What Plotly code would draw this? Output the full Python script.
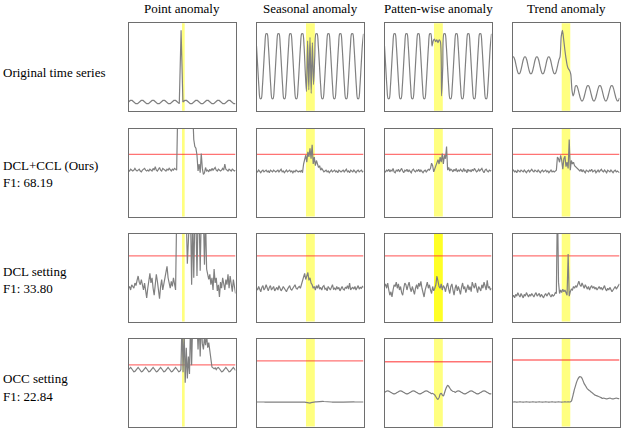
import numpy as np
import plotly.graph_objects as go

# ---------------- text ----------------
col_titles = ["Point anomaly", "Seasonal anomaly", "Patten-wise anomaly", "Trend anomaly"]
row_labels = [["Original time series"],
              ["DCL+CCL (Ours)", "F1: 68.19"],
              ["DCL setting", "F1: 33.80"],
              ["OCC setting", "F1: 22.84"]]

# ---------------- anomaly intervals (fraction of time axis) ----------------
band_point = [0.500, 0.525]
band_seasonal = [0.4625, 0.545]
band_pattern = [0.4625, 0.545]
band_trend = [0.46, 0.54]

# thresholds (None = no threshold)
thr_original = [None, None, None, None]
thr_dclccl = [0.71, 0.71, 0.71, 0.71]
thr_dcl = [0.75, 0.75, 0.75, 0.75]
thr_occ = [0.705, 0.75, 0.74, 0.76]

# ---------------- row 1 : original series ----------------
orig_point = [
    0.100, 0.118, 0.118, 0.100, 0.082, 0.082,
    0.100, 0.118, 0.118, 0.100, 0.082, 0.082,
    0.100, 0.118, 0.118, 0.100, 0.082, 0.082,
    0.100, 0.118, 0.118, 0.100, 0.082, 0.082,
    0.100, 0.118, 0.118, 0.100, 0.082, 0.920,
    0.100, 0.118, 0.118, 0.100, 0.082, 0.082,
    0.100, 0.118, 0.118, 0.100, 0.082, 0.082,
    0.100, 0.118, 0.118, 0.100, 0.082, 0.082,
    0.100, 0.118, 0.118, 0.100, 0.082, 0.082,
    0.100, 0.118, 0.118, 0.100, 0.082, 0.082,
]
orig_seasonal = [
    0.74, 0.51, 0.28, 0.14, 0.14, 0.28, 0.51, 0.74, 0.88, 0.88,
    0.74, 0.51, 0.28, 0.14, 0.14, 0.28, 0.51, 0.74, 0.88, 0.88,
    0.74, 0.51, 0.28, 0.14, 0.14, 0.28, 0.51, 0.74, 0.88, 0.88,
    0.74, 0.51, 0.28, 0.14, 0.14, 0.28, 0.51, 0.74, 0.88, 0.88,
    0.74, 0.45, 0.22, 0.80, 0.24, 0.84, 0.20, 0.78, 0.30, 0.62,
    0.88, 0.88, 0.74, 0.51, 0.28, 0.14, 0.14, 0.28, 0.51, 0.74,
    0.88, 0.88, 0.74, 0.51, 0.28, 0.14, 0.14, 0.28, 0.51, 0.74,
    0.88, 0.88, 0.74, 0.51, 0.28, 0.14, 0.14, 0.28, 0.51, 0.74,
    0.88, 0.88, 0.74, 0.51, 0.28, 0.14, 0.14, 0.28, 0.51, 0.74,
    0.88,
]
orig_pattern = [
    0.74, 0.51, 0.28, 0.14, 0.14, 0.28, 0.51, 0.74, 0.88, 0.88,
    0.74, 0.51, 0.28, 0.14, 0.14, 0.28, 0.51, 0.74, 0.88, 0.88,
    0.74, 0.51, 0.28, 0.14, 0.14, 0.28, 0.51, 0.74, 0.88, 0.88,
    0.74, 0.51, 0.28, 0.14, 0.14, 0.28, 0.51, 0.74, 0.88, 0.88,
    0.74, 0.80, 0.82, 0.79, 0.81, 0.78, 0.81, 0.79, 0.17, 0.50,
    0.88, 0.88, 0.74, 0.51, 0.28, 0.14, 0.14, 0.28, 0.51, 0.74,
    0.88, 0.88, 0.74, 0.51, 0.28, 0.14, 0.14, 0.28, 0.51, 0.74,
    0.88, 0.88, 0.74, 0.51, 0.28, 0.14, 0.14, 0.28, 0.51, 0.74,
    0.88, 0.88, 0.74, 0.51, 0.28, 0.14, 0.14, 0.28, 0.51, 0.74,
    0.88,
]
orig_trend = [
    0.615, 0.615, 0.58, 0.52, 0.46, 0.425, 0.425, 0.46, 0.52, 0.58,
    0.615, 0.615, 0.58, 0.52, 0.46, 0.425, 0.425, 0.46, 0.52, 0.58,
    0.615, 0.615, 0.58, 0.52, 0.46, 0.425, 0.425, 0.46, 0.52, 0.58,
    0.615, 0.615, 0.58, 0.52, 0.46, 0.425, 0.425, 0.46, 0.52, 0.58,
    0.62, 0.85, 0.92, 0.82, 0.70, 0.60, 0.52, 0.48, 0.46, 0.42,
    0.24, 0.17, 0.21,
    0.285, 0.285, 0.253, 0.20, 0.147, 0.115, 0.115, 0.147, 0.20, 0.253,
    0.285, 0.285, 0.253, 0.20, 0.147, 0.115, 0.115, 0.147, 0.20, 0.253,
    0.285, 0.285, 0.253, 0.20, 0.147, 0.115, 0.115, 0.147, 0.20, 0.253,
    0.285, 0.285, 0.253, 0.20, 0.147, 0.115, 0.115, 0.147,
]

# ---------------- row 2 : DCL+CCL ----------------
dclccl_point = [
    0.53, 0.52, 0.54, 0.53, 0.52, 0.53, 0.55, 0.53, 0.52, 0.53,
    0.54, 0.52, 0.51, 0.53, 0.54, 0.55, 0.53, 0.52, 0.53, 0.52,
    0.54, 0.53, 0.52, 0.55, 0.53, 0.57, 0.53, 0.52, 0.54, 0.56,
    0.53, 0.52, 0.55, 0.54, 0.53, 0.52, 0.54, 0.53, 0.55, 0.53,
    0.52, 0.54, 0.53, 0.55, 0.54, 0.53, 1.20, 1.20, 1.20, 1.20,
    1.20, 1.20, 1.20, 1.20, 1.20, 1.20, 1.20, 1.20, 1.20, 1.20,
    1.20, 0.88, 0.80, 0.78, 0.70, 0.52, 0.60, 0.50, 0.72, 0.55,
    0.48, 0.50, 0.56, 0.52, 0.53, 0.51, 0.54, 0.52, 0.55, 0.53,
    0.54, 0.56, 0.53, 0.52, 0.54, 0.53, 0.52, 0.53, 0.55, 0.53,
    0.60, 0.54, 0.53, 0.52, 0.54, 0.53, 0.52, 0.54, 0.53, 0.52,
    0.53,
]
dclccl_seasonal = [
    0.52, 0.51, 0.53, 0.52, 0.50, 0.52, 0.53, 0.51, 0.52, 0.53,
    0.51, 0.52, 0.50, 0.53, 0.52, 0.51, 0.53, 0.52, 0.51, 0.52,
    0.53, 0.51, 0.52, 0.54, 0.51, 0.52, 0.50, 0.52, 0.53, 0.51,
    0.52, 0.53, 0.51, 0.52, 0.50, 0.52, 0.51, 0.53, 0.52, 0.51,
    0.52, 0.51, 0.53, 0.50, 0.60, 0.64, 0.70, 0.62, 0.74, 0.68,
    0.78, 0.66, 0.82, 0.60, 0.68, 0.58, 0.64, 0.60, 0.56, 0.58,
    0.53, 0.55, 0.52, 0.51, 0.52, 0.53, 0.51, 0.52, 0.50, 0.52,
    0.53, 0.51, 0.52, 0.53, 0.51, 0.52, 0.50, 0.53, 0.52, 0.51,
    0.52, 0.53, 0.51, 0.52, 0.54, 0.51, 0.52, 0.50, 0.53, 0.52,
    0.51, 0.53, 0.52, 0.50, 0.52, 0.53, 0.51, 0.52, 0.53, 0.51,
    0.52,
]
dclccl_pattern = [
    0.52, 0.51, 0.53, 0.52, 0.54, 0.51, 0.53, 0.52, 0.55, 0.51,
    0.50, 0.53, 0.52, 0.54, 0.51, 0.53, 0.55, 0.52, 0.50, 0.53,
    0.52, 0.54, 0.51, 0.53, 0.52, 0.50, 0.53, 0.54, 0.52, 0.51,
    0.53, 0.52, 0.54, 0.51, 0.53, 0.52, 0.50, 0.52, 0.53, 0.51,
    0.52, 0.54, 0.53, 0.55, 0.61, 0.58, 0.51, 0.54, 0.57, 0.60,
    0.65, 0.60, 0.68, 0.62, 0.72, 0.60, 0.70, 0.66, 0.80, 0.53,
    0.56, 0.52, 0.54, 0.53, 0.51, 0.54, 0.52, 0.55, 0.51, 0.53,
    0.52, 0.54, 0.53, 0.51, 0.55, 0.52, 0.53, 0.50, 0.54, 0.52,
    0.53, 0.51, 0.54, 0.52, 0.55, 0.53, 0.51, 0.52, 0.54, 0.52,
    0.53, 0.55, 0.52, 0.50, 0.53, 0.54, 0.52, 0.51, 0.53, 0.52,
    0.53,
]
dclccl_trend = [
    0.52, 0.53, 0.51, 0.52, 0.50, 0.53, 0.52, 0.51, 0.53, 0.52,
    0.51, 0.53, 0.52, 0.50, 0.52, 0.53, 0.51, 0.52, 0.54, 0.52,
    0.51, 0.53, 0.52, 0.51, 0.53, 0.52, 0.50, 0.52, 0.53, 0.51,
    0.52, 0.53, 0.51, 0.52, 0.50, 0.52, 0.53, 0.51, 0.52, 0.51,
    0.52, 0.53, 0.68, 0.66, 0.62, 0.70, 0.64, 0.54, 0.66, 0.69,
    0.57, 0.62, 0.55, 0.88, 0.53, 0.64, 0.60, 0.62, 0.58, 0.57,
    0.55, 0.54, 0.53, 0.52, 0.54, 0.51, 0.53, 0.52, 0.50, 0.53,
    0.52, 0.51, 0.53, 0.52, 0.54, 0.51, 0.52, 0.53, 0.50, 0.52,
    0.53, 0.51, 0.52, 0.54, 0.52, 0.51, 0.53, 0.52, 0.50, 0.53,
    0.52, 0.51, 0.53, 0.52, 0.50, 0.52, 0.53, 0.51, 0.52, 0.51,
    0.50,
]

# ---------------- row 3 : DCL setting ----------------
dcl_point = [
    0.38, 0.40, 0.36, 0.42, 0.40, 0.38, 0.44, 0.41, 0.47, 0.52,
    0.45, 0.42, 0.48, 0.40, 0.36, 0.44, 0.34, 0.27, 0.38, 0.46,
    0.55, 0.44, 0.50, 0.38, 0.30, 0.42, 0.54, 0.46, 0.33, 0.26,
    0.40, 0.48, 0.36, 0.44, 0.52, 0.58, 0.63, 0.50, 0.44, 0.38,
    0.46, 0.40, 0.50, 0.44, 0.36, 1.20, 1.20, 1.20, 1.20, 1.20,
    1.20, 1.20, 1.20, 1.20, 1.20, 0.66, 1.20, 1.20, 1.20, 0.42,
    1.20, 0.50, 1.20, 1.20, 0.52, 1.20, 1.20, 0.58, 1.20, 1.20,
    1.20, 0.65, 1.20, 0.60, 0.52, 0.48, 0.54, 0.42, 0.50, 0.36,
    0.60, 0.44, 0.50, 0.35, 0.42, 0.28, 0.45, 0.38, 0.50, 0.40,
    0.36, 0.48, 0.42, 0.54, 0.38, 0.52, 0.45, 0.34, 0.48, 0.40,
    0.32,
]
dcl_seasonal = [
    0.38, 0.36, 0.40, 0.37, 0.34, 0.39, 0.41, 0.36, 0.38, 0.42,
    0.37, 0.35, 0.39, 0.41, 0.36, 0.38, 0.40, 0.35, 0.37, 0.39,
    0.36, 0.41, 0.38, 0.35, 0.37, 0.40, 0.38, 0.36, 0.34, 0.37,
    0.39, 0.41, 0.37, 0.36, 0.38, 0.40, 0.42, 0.38, 0.37, 0.39,
    0.40, 0.38, 0.42, 0.45, 0.50, 0.55, 0.48, 0.52, 0.56, 0.47,
    0.50, 0.44, 0.42, 0.38, 0.40, 0.36, 0.41, 0.38, 0.42, 0.37,
    0.39, 0.36, 0.40, 0.41, 0.37, 0.38, 0.35, 0.40, 0.38, 0.36,
    0.39, 0.42, 0.37, 0.38, 0.36, 0.40, 0.37, 0.39, 0.35, 0.38,
    0.40, 0.37, 0.36, 0.39, 0.38, 0.41, 0.37, 0.44, 0.36, 0.38,
    0.39, 0.37, 0.40, 0.36, 0.38, 0.41, 0.37, 0.39, 0.38, 0.40,
    0.39,
]
dcl_pattern = [
    0.40, 0.43, 0.38, 0.44, 0.36, 0.30, 0.34, 0.28, 0.36, 0.42,
    0.40, 0.45, 0.38, 0.43, 0.36, 0.40, 0.33, 0.30, 0.38, 0.44,
    0.42, 0.36, 0.41, 0.45, 0.38, 0.34, 0.40, 0.36, 0.31, 0.38,
    0.42, 0.37, 0.44, 0.40, 0.46, 0.38, 0.34, 0.28, 0.36, 0.40,
    0.45, 0.38, 0.42, 0.36, 0.32, 0.40, 0.35, 0.38, 0.42, 0.52,
    0.44, 0.40, 0.38, 0.43, 0.36, 0.41, 0.39, 0.34, 0.40, 0.44,
    0.37, 0.32, 0.40, 0.43, 0.36, 0.30, 0.38, 0.42, 0.35, 0.40,
    0.36, 0.31, 0.39, 0.44, 0.37, 0.40, 0.33, 0.38, 0.42, 0.36,
    0.40, 0.34, 0.45, 0.41, 0.38, 0.44, 0.36, 0.33, 0.40, 0.37,
    0.35, 0.42, 0.38, 0.45, 0.40, 0.36, 0.47, 0.38, 0.40, 0.36,
    0.38,
]
dcl_trend = [
    0.28, 0.30, 0.27, 0.31, 0.29, 0.33, 0.30, 0.28, 0.32, 0.30,
    0.27, 0.31, 0.29, 0.33, 0.30, 0.28, 0.31, 0.29, 0.32, 0.30,
    0.28, 0.31, 0.33, 0.29, 0.30, 0.32, 0.28, 0.31, 0.29, 0.27,
    0.30, 0.32, 0.29, 0.31, 0.33, 0.30, 0.28, 0.31, 0.29, 0.30,
    0.33, 0.32, 1.40, 0.45, 0.32, 0.36, 0.33, 0.37, 0.34, 0.36,
    0.33, 0.30, 0.77, 0.29, 0.34, 0.37, 0.36, 0.40, 0.38, 0.41,
    0.39, 0.43, 0.46, 0.42, 0.40, 0.44, 0.41, 0.38, 0.42, 0.39,
    0.37, 0.40, 0.36, 0.39, 0.41, 0.38, 0.40, 0.37, 0.39, 0.36,
    0.38, 0.40, 0.37, 0.39, 0.36, 0.38, 0.41, 0.37, 0.35, 0.38,
    0.36, 0.39, 0.37, 0.34, 0.36, 0.38, 0.40, 0.37, 0.39, 0.41,
    0.43,
]

# ---------------- row 4 : OCC setting ----------------
occ_point = [
    0.65, 0.67, 0.675, 0.66, 0.64, 0.625, 0.63,
    0.65, 0.67, 0.675, 0.66, 0.64, 0.625, 0.63,
    0.65, 0.67, 0.675, 0.66, 0.64, 0.625, 0.63,
    0.65, 0.67, 0.675, 0.66, 0.64, 0.625, 0.63,
    0.65, 0.67, 0.675, 0.66, 0.64, 0.625, 0.63,
    0.65, 0.67, 0.675, 0.66, 0.64, 0.625, 0.63,
    0.65, 0.67, 0.675, 0.66, 0.64, 0.625, 0.63,
    0.65,
    1.20, 0.62, 1.10, 0.50, 0.90, 0.55, 0.80, 0.60, 1.20, 0.70,
    1.20, 1.20, 1.20, 1.20, 1.20,
    0.88, 1.20, 0.80, 1.20, 0.95, 0.88, 1.02, 0.93, 1.05, 0.90,
    0.96, 0.86, 0.76, 0.68, 0.67, 0.66, 0.67,
    0.65, 0.67, 0.675, 0.66, 0.64, 0.625, 0.63,
    0.65, 0.67, 0.675, 0.66, 0.64, 0.625, 0.63,
    0.65, 0.67, 0.675, 0.66, 0.64,
]
occ_seasonal = [
    0.280, 0.281, 0.280, 0.279, 0.280, 0.281, 0.280, 0.280, 0.279, 0.280,
    0.281, 0.280, 0.279, 0.280, 0.281, 0.280, 0.280, 0.279, 0.280, 0.281,
    0.280, 0.279, 0.280, 0.281, 0.280, 0.280, 0.279, 0.280, 0.281, 0.280,
    0.280, 0.279, 0.280, 0.281, 0.280, 0.280, 0.279, 0.280, 0.281, 0.280,
    0.280, 0.281, 0.280, 0.279, 0.280, 0.278, 0.275, 0.272, 0.268, 0.266,
    0.268, 0.272, 0.276, 0.279, 0.281, 0.282, 0.281, 0.283, 0.285, 0.286,
    0.287, 0.286, 0.288, 0.286, 0.284, 0.282, 0.281, 0.280, 0.280, 0.281,
    0.280, 0.279, 0.280, 0.281, 0.280, 0.280, 0.279, 0.280, 0.281, 0.280,
    0.280, 0.279, 0.280, 0.281, 0.280, 0.280, 0.279, 0.280, 0.281, 0.280,
    0.280, 0.281, 0.280, 0.279, 0.280, 0.281, 0.280, 0.280, 0.279, 0.280,
    0.280,
]
occ_pattern = [
    0.390, 0.398, 0.405, 0.407, 0.405, 0.398, 0.390, 0.382, 0.375, 0.373, 0.375, 0.382,
    0.390, 0.398, 0.405, 0.407, 0.405, 0.398, 0.390, 0.382, 0.375, 0.373, 0.375, 0.382,
    0.390, 0.398, 0.405, 0.407, 0.405, 0.398, 0.390, 0.382, 0.375, 0.373, 0.375, 0.382,
    0.390, 0.398, 0.405, 0.407, 0.405, 0.398, 0.390, 0.382,
    0.375, 0.380, 0.370, 0.360, 0.340, 0.320, 0.310, 0.330, 0.370, 0.380,
    0.360, 0.350, 0.380, 0.420, 0.450, 0.470, 0.460, 0.440, 0.420, 0.410,
    0.400, 0.400, 0.390,
    0.398, 0.405, 0.407, 0.405, 0.398, 0.390, 0.382, 0.375, 0.373, 0.375, 0.382, 0.390,
    0.398, 0.405, 0.407, 0.405, 0.398, 0.390, 0.382, 0.375, 0.373, 0.375, 0.382, 0.390,
    0.398, 0.405, 0.407, 0.405, 0.398, 0.390, 0.382, 0.375, 0.373, 0.375,
]
occ_trend = [
    0.280, 0.280, 0.281, 0.280, 0.279, 0.280, 0.280, 0.281, 0.280, 0.280,
    0.279, 0.280, 0.280, 0.281, 0.280, 0.280, 0.279, 0.280, 0.280, 0.281,
    0.280, 0.280, 0.279, 0.280, 0.280, 0.281, 0.280, 0.280, 0.279, 0.280,
    0.280, 0.281, 0.280, 0.280, 0.279, 0.280, 0.280, 0.281, 0.280, 0.280,
    0.279, 0.280, 0.280, 0.281, 0.280, 0.280, 0.279, 0.280, 0.280, 0.281,
    0.280, 0.280, 0.281, 0.280,
    0.282, 0.290, 0.330, 0.380, 0.430, 0.470, 0.510, 0.540, 0.560, 0.570,
    0.565, 0.550, 0.520, 0.490, 0.470, 0.450, 0.430, 0.420, 0.410, 0.400,
    0.390, 0.380, 0.370, 0.360, 0.355, 0.350, 0.345, 0.340, 0.335, 0.330,
    0.320, 0.325, 0.322, 0.318, 0.315, 0.318, 0.322, 0.325, 0.320, 0.316,
    0.315, 0.318, 0.322, 0.325, 0.322, 0.318, 0.320,
]

series = [
    [orig_point, orig_seasonal, orig_pattern, orig_trend],
    [dclccl_point, dclccl_seasonal, dclccl_pattern, dclccl_trend],
    [dcl_point, dcl_seasonal, dcl_pattern, dcl_trend],
    [occ_point, occ_seasonal, occ_pattern, occ_trend],
]
thresholds = [thr_original, thr_dclccl, thr_dcl, thr_occ]
bands = [band_point, band_seasonal, band_pattern, band_trend]

# smooth (spline) drawing for the clean periodic panels
smooth_panels = {(0, 1), (0, 2), (0, 3), (3, 2), (3, 3)}

# ---------------- layout geometry (pixels) ----------------
W, H = 627, 436
col_left = [128.5, 256.5, 384.5, 512.5]
panel_w = 107
row_top = [23.3, 129.0, 234.0, 339.0]
panel_h = 87.5

FONT = "Liberation Serif, Times New Roman, serif"
LINE_GRAY = "#808080"
FRAME = "#6e6e6e"
RED = "rgba(255,40,40,0.65)"
YELLOW = "rgba(255,255,0,0.5)"
YELLOW_STRONG = "rgba(255,255,0,0.85)"

fig = go.Figure()
layout = dict(
    width=W, height=H, margin=dict(l=0, r=0, t=0, b=0),
    paper_bgcolor="white", plot_bgcolor="white", showlegend=False,
    shapes=[], annotations=[],
)

for r in range(4):
    for c in range(4):
        k = r * 4 + c + 1
        xs = "" if k == 1 else str(k)
        xa, ya = "xaxis" + xs, "yaxis" + xs
        xr, yr = "x" + xs, "y" + xs
        l = col_left[c]
        t = row_top[r]
        layout[xa] = dict(domain=[l / W, (l + panel_w) / W], range=[0, 1], anchor=yr,
                          showline=True, mirror=True, linecolor=FRAME, linewidth=1,
                          showticklabels=False, ticks="", showgrid=False, zeroline=False,
                          fixedrange=True)
        layout[ya] = dict(domain=[1 - (t + panel_h) / H, 1 - t / H], range=[0, 1], anchor=xr,
                          showline=True, mirror=True, linecolor=FRAME, linewidth=1,
                          showticklabels=False, ticks="", showgrid=False, zeroline=False,
                          fixedrange=True)
        b0, b1 = bands[c]
        fill = YELLOW_STRONG if (r == 2 and c == 2) else YELLOW
        layout["shapes"].append(dict(type="rect", xref=xr, yref=yr + " domain",
                                     x0=b0, x1=b1, y0=0, y1=1, fillcolor=fill,
                                     line=dict(width=0), layer="below"))
        thr = thresholds[r][c]
        if thr is not None:
            fig.add_trace(go.Scatter(x=[0, 1], y=[thr, thr], mode="lines",
                                     line=dict(color=RED, width=1.3),
                                     xaxis=xr, yaxis=yr, hoverinfo="skip"))
        vals = series[r][c]
        x = np.linspace(0, 1, len(vals))
        shape = "spline" if (r, c) in smooth_panels else "linear"
        fig.add_trace(go.Scatter(x=x, y=vals, mode="lines",
                                 line=dict(color=LINE_GRAY, width=1.2, shape=shape,
                                           smoothing=0.8 if shape == "spline" else None),
                                 xaxis=xr, yaxis=yr, hoverinfo="skip"))

# column titles
for c, title in enumerate(col_titles):
    layout["annotations"].append(dict(
        text=title, xref="paper", yref="paper",
        x=(col_left[c] + panel_w / 2) / W, y=1 - 8 / H,
        xanchor="center", yanchor="middle", showarrow=False,
        font=dict(family=FONT, size=13, color="black")))

# row labels
label_y = [[72], [165, 182.7], [271, 288.3], [378.3, 396.7]]
for r, lines in enumerate(row_labels):
    for j, txt in enumerate(lines):
        layout["annotations"].append(dict(
            text=txt, xref="paper", yref="paper",
            x=1 / W, y=1 - label_y[r][j] / H,
            xanchor="left", yanchor="middle", showarrow=False,
            font=dict(family=FONT, size=13, color="black")))

fig.update_layout(**layout)
fig.write_html("out.html", config={"displayModeBar": False},
               post_script="document.body.style.margin='0';document.body.style.overflow='hidden';")
